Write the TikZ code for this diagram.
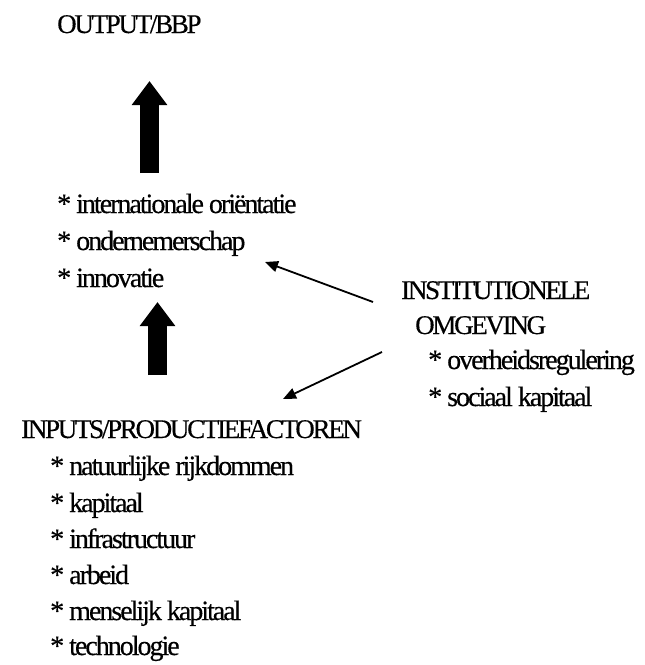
\documentclass[tikz,border=0pt]{standalone}
\usepackage{fontspec}
\setmainfont{Liberation Serif}
\newfontfamily\capsfont[LetterSpace=-8.5, FakeBold=0.4]{Liberation Serif}
\newfontfamily\itemfont[LetterSpace=-7.2, FakeBold=0.4]{Liberation Serif}
\usetikzlibrary{arrows.meta}

\begin{document}
\begin{tikzpicture}[x=1pt, y=-1pt,
  head/.style={anchor=base west, inner sep=0pt, font=\capsfont\fontsize{27}{33}\selectfont},
  item/.style={anchor=base west, inner sep=0pt, font=\itemfont\fontsize{28}{33}\selectfont},
  bigarrow/.style={line width=19pt, -{Triangle[length=24pt, width=34pt]}},
  thinarrow/.style={line width=1.8pt, -{Triangle[length=13pt, width=11pt]}}]
\useasboundingbox (0, 0) rectangle (645, 665);

\node[head] (out) at (57, 33) {OUTPUT/BBP};

\node[item] (intl) at (57, 213) {* internationale oriëntatie};
\node[item] (ond) at (57, 250) {* ondernemerschap};
\node[item] (inno) at (57, 287) {* innovatie};

\node[head] (inst) at (401, 299) {INSTITUTIONELE};
\node[head] (omg) at (415, 334) {OMGEVING};
\node[item] (reg) at (428, 369) {* overheidsregulering};
\node[item] (soc) at (428, 406) {* sociaal kapitaal};

\node[head] (inp) at (21, 438) {INPUTS/PRODUCTIEFACTOREN};
\node[item] (nat) at (50, 475) {* natuurlijke rijkdommen};
\node[item] (kap) at (50, 512) {* kapitaal};
\node[item] (infra) at (50, 548) {* infrastructuur};
\node[item] (arb) at (50, 584) {* arbeid};
\node[item] (mens) at (50, 620) {* menselijk kapitaal};
\node[item] (tech) at (50, 655) {* technologie};

\coordinate (up1s) at (149.5, 173);
\coordinate (up1e) at (149.5, 81);
\coordinate (up2s) at (157.5, 375);
\coordinate (up2e) at (157.5, 302);
\coordinate (ins1) at (373, 302);
\coordinate (ins1e) at (265, 262);
\coordinate (ins2) at (382, 352);
\coordinate (ins2e) at (283, 399);

\draw[bigarrow] (up1s) -- (up1e);
\draw[bigarrow] (up2s) -- (up2e);
\draw[thinarrow] (ins1) -- (ins1e);
\draw[thinarrow] (ins2) -- (ins2e);
\end{tikzpicture}
\end{document}
